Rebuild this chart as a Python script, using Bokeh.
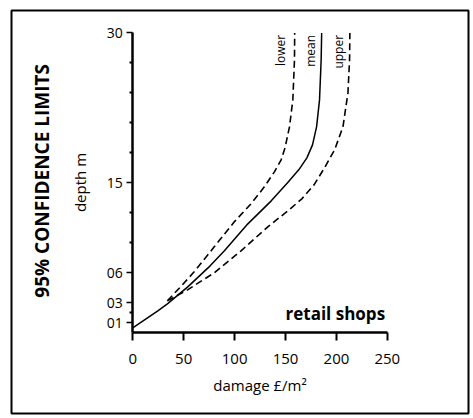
from bokeh.plotting import figure
from bokeh.models import LinearAxis, FixedTicker, Range1d
from bokeh.core.properties import value
from bokeh.embed import file_html
from bokeh.resources import INLINE

# data: damage (£/m2) vs depth (m)
mean_x = [0, 24.6, 34, 54, 76, 90, 113, 136, 152, 163, 171, 176.5, 180.5, 183.4, 185, 185.5]
mean_y = [0.05, 0.22, 0.29, 0.46, 0.67, 0.82, 1.09, 1.32, 1.50, 1.63, 1.75, 1.88, 2.06, 2.33, 2.73, 3.0]
lower_x = [34, 50.5, 60.3, 80, 99.7, 116.1, 129.2, 139.1, 145.7, 149.5, 153.9, 157.2, 158.8, 159]
lower_y = [0.32, 0.5, 0.61, 0.86, 1.11, 1.29, 1.46, 1.61, 1.73, 1.85, 2.06, 2.33, 2.73, 3.0]
upper_x = [34, 53.8, 80, 106.3, 132.6, 152.3, 166, 178, 188.3, 198.2, 206.4, 211.3, 212.9, 213.2]
upper_y = [0.32, 0.43, 0.60, 0.82, 1.06, 1.22, 1.34, 1.48, 1.65, 1.83, 2.06, 2.40, 2.73, 3.0]

x_ticks = [0, 50, 100, 150, 200, 250]
y_ticks = [0.1, 0.3, 0.6, 1.5, 3.0]
y_tick_labels = ["01", "03", "06", "15", "30"]
y_minor = [0.2, 0.9, 1.2, 1.8, 2.1, 2.4, 2.7]

series_names = ["lower", "mean", "upper"]
series_label_x = [144.7, 175.0, 201.8]
series_label_y = [2.98, 2.98, 2.98]

FONT = "Open Sans"

p = figure(width=471, height=416, output_backend="svg", toolbar_location=None,
           x_axis_location=None, y_axis_location=None,
           x_range=Range1d(-119.1, 329.7), y_range=Range1d(-0.807, 3.224),
           min_border_left=11, min_border_right=3,
           min_border_top=10, min_border_bottom=3)
p.grid.visible = False
p.outline_line_color = "black"
p.outline_line_width = 2
p.background_fill_color = "white"
p.border_fill_color = "white"

xaxis = LinearAxis(fixed_location=0, bounds=(0, 250),
                   ticker=FixedTicker(ticks=x_ticks, minor_ticks=[]))
xaxis.axis_line_width = 2.5
xaxis.axis_line_color = "black"
xaxis.major_tick_line_width = 2
xaxis.major_tick_line_color = "black"
xaxis.major_tick_out = 8
xaxis.major_tick_in = 0
xaxis.minor_tick_out = 0
xaxis.major_label_text_font = FONT
xaxis.major_label_text_font_size = "15px"
xaxis.major_label_text_color = "black"
xaxis.major_label_standoff = 13
xaxis.axis_label = "damage £/m²"
xaxis.axis_label_text_font = FONT
xaxis.axis_label_text_font_style = "normal"
xaxis.axis_label_text_font_size = "15px"
xaxis.axis_label_text_color = "black"
xaxis.axis_label_standoff = 8
p.add_layout(xaxis, "below")

yaxis = LinearAxis(fixed_location=0, bounds=(0, 3.0),
                   ticker=FixedTicker(ticks=y_ticks, minor_ticks=y_minor))
yaxis.major_label_overrides = {t: l for t, l in zip(y_ticks, y_tick_labels)}
yaxis.axis_line_width = 2.5
yaxis.axis_line_color = "black"
yaxis.major_tick_line_width = 1.5
yaxis.major_tick_line_color = "black"
yaxis.major_tick_out = 6
yaxis.major_tick_in = 0
yaxis.minor_tick_out = 3
yaxis.minor_tick_in = 0
yaxis.minor_tick_line_width = 2
yaxis.minor_tick_line_color = "black"
yaxis.major_label_text_font = FONT
yaxis.major_label_text_font_size = "14px"
yaxis.major_label_text_color = "black"
yaxis.major_label_standoff = 4
yaxis.major_label_orientation = "horizontal"
yaxis.axis_label = "depth m"
yaxis.axis_label_text_font = FONT
yaxis.axis_label_text_font_style = "normal"
yaxis.axis_label_text_font_size = "15px"
yaxis.axis_label_text_color = "black"
yaxis.axis_label_standoff = 13
p.add_layout(yaxis, "left")

p.line(mean_x, mean_y, line_color="black", line_width=1.5)
p.line(lower_x, lower_y, line_color="black", line_width=1.6, line_dash="7 4")
p.line(upper_x, upper_y, line_color="black", line_width=1.6, line_dash="7 4")

p.text(x=series_label_x, y=series_label_y, text=series_names, angle=1.5708,
       text_align="right", text_baseline="middle", text_font=value(FONT),
       text_font_size="12px", text_color="black")

p.text(x=[150], y=[0.19], text=["retail shops"], text_align="left",
       text_baseline="middle", text_font=value(FONT), text_font_size="17px",
       text_font_style="bold", text_color="black")

p.text(x=[-89], y=[1.52], text=["95% CONFIDENCE LIMITS"], angle=1.5708,
       text_align="center", text_baseline="middle", text_font=value(FONT),
       text_font_size="19px", text_font_style="bold", text_color="black")

open("out.html", "w").write(file_html(p, INLINE))
